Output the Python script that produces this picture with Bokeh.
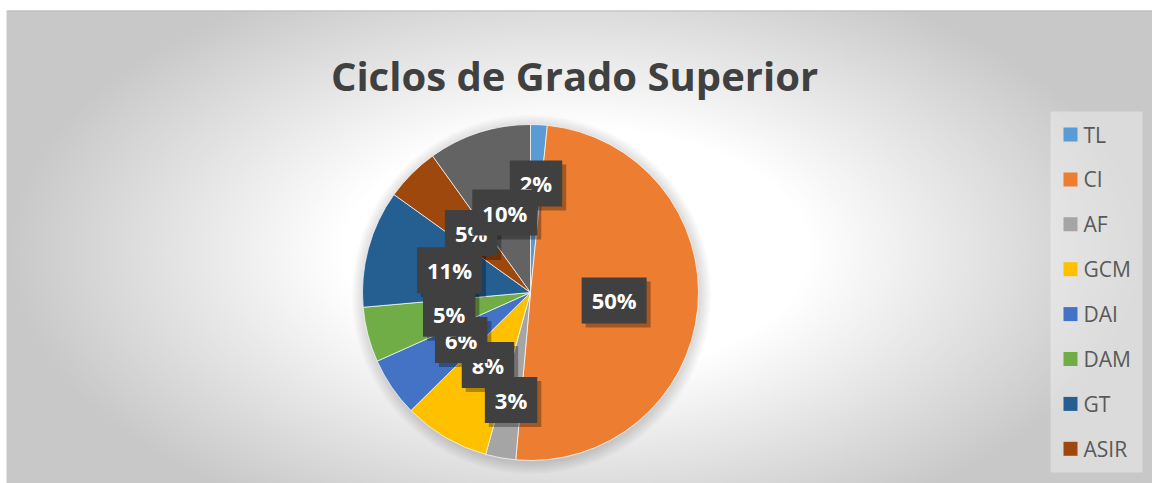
import numpy as np
from bokeh.plotting import figure
from bokeh.models import Range1d
from bokeh.core.properties import value
from bokeh.embed import file_html
from bokeh.resources import INLINE

# ---- data ----
categories = ["TL", "CI", "AF", "GCM", "DAI", "DAM", "GT", "ASIR", "Otros"]
shares = [1.6, 49.8, 2.9, 8.3, 5.7, 5.3, 11.3, 5.2, 9.9]
colors = ["#5B9BD5", "#ED7D31", "#A5A5A5", "#FFC000", "#4472C4",
          "#70AD47", "#255E91", "#9E480E", "#636363"]
legend_categories = categories[:8]
title_text = "Ciclos de Grado Superior"

W, H = 1152, 483
p = figure(width=W, height=H, x_range=Range1d(0, W), y_range=Range1d(0, H),
           output_backend="svg", toolbar_location=None, min_border=0,
           x_axis_type=None, y_axis_type=None)
p.grid.visible = False
p.outline_line_color = None
p.background_fill_color = "#ffffff"
p.border_fill_color = "#ffffff"

# ---- radial gradient background (chart area) ----
L, T = 7, 10  # chart area left edge / top edge in screen px
step = 2
gx = np.arange(0, W, step) + step / 2
gy = np.arange(0, H, step) + step / 2
X, Y = np.meshgrid(gx, gy)
sx = X
sy = H - Y
d = np.sqrt(((sx - 575) / 620) ** 2 + ((sy - 250) / 330) ** 2)
t = np.clip((d - 0.38) / 0.54, 0, 1)
g = (255 - 55 * t).astype(np.uint32)
g = np.where((sx < L) | (sy < T), 255, g).astype(np.uint32)
img = (np.uint32(255) << 24) | (g << 16) | (g << 8) | g
p.image_rgba(image=[img], x=0, y=0, dw=W, dh=H)
p.segment(x0=L, y0=H - T - 0.5, x1=W, y1=H - T - 0.5, line_color="#bdbdbd", line_width=1)

# ---- pie ----
cx, cy, R = 530, 191, 168
fr = np.array(shares) / sum(shares)
cum_end = np.cumsum(fr)
cum_start = cum_end - fr
start = np.pi / 2 - 2 * np.pi * cum_start
end = np.pi / 2 - 2 * np.pi * cum_end

# soft shadow halo
for k in range(12):
    p.circle(x=cx + 1, y=cy - 2, radius=R + 12 - k, fill_color="black",
             fill_alpha=0.012, line_color=None)

p.wedge(x=cx, y=cy, radius=R, start_angle=start, end_angle=end,
        direction="clock", fill_color=colors, line_color="white",
        line_width=1, line_alpha=0.7)

# ---- data labels ----
mid = cum_start + fr / 2
ang = np.pi / 2 - 2 * np.pi * mid
rf = np.where(fr < 0.04, 0.65, 0.5)
lx = cx + R * rf * np.cos(ang)
ly = cy + R * rf * np.sin(ang)
labels = [f"{round(s)}%" for s in shares]

pad = dict(left=10, right=10, top=8, bottom=8)
p.text(x=lx, y=ly, text=labels, x_offset=4, y_offset=4,
       text_font=value("Open Sans"), text_font_style="bold", text_font_size="22px",
       text_align="center", text_baseline="middle", text_alpha=0,
       background_fill_color="black", background_fill_alpha=0.3, padding=pad)
p.text(x=lx, y=ly, text=labels,
       text_font=value("Open Sans"), text_font_style="bold", text_font_size="22px",
       text_align="center", text_baseline="middle", text_color="white",
       background_fill_color="#404040", padding=pad)

# ---- title ----
p.text(x=[574], y=[H - 75], text=[title_text], text_font=value("Open Sans"),
       text_font_style="bold", text_font_size="40px", text_color="#404040",
       text_align="center", text_baseline="alphabetic")

# ---- legend ----
p.quad(left=1050, right=1142, bottom=H - 472, top=H - 111, fill_color="white",
       fill_alpha=0.35, line_color=None)
lgy = (H - 134) - 44.9 * np.arange(len(legend_categories))
p.rect(x=1070, y=lgy, width=14, height=14, fill_color=colors[:len(legend_categories)],
       line_color=None)
p.text(x=1083, y=lgy, text=legend_categories, text_font=value("Open Sans"),
       text_font_size="21px", text_color="#595959", text_align="left",
       text_baseline="middle")

open("out.html", "w").write(file_html(p, INLINE))
